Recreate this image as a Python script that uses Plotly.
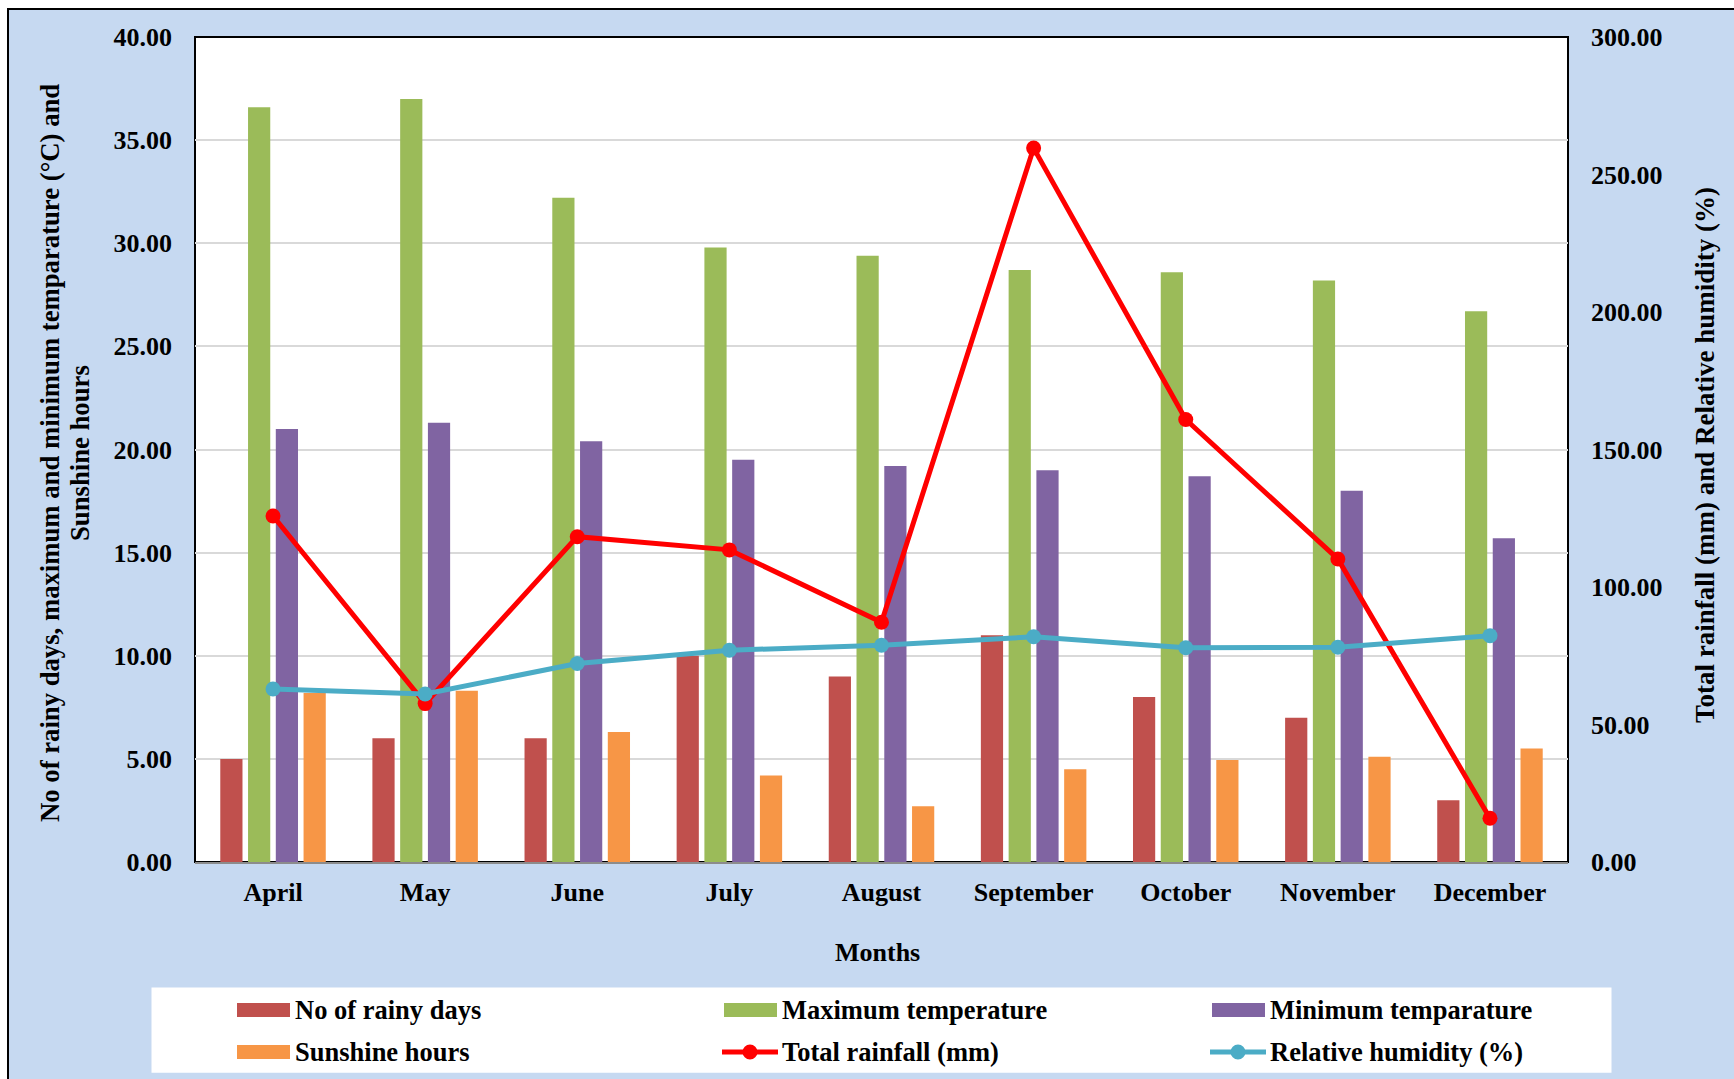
import plotly.graph_objects as go

# ---- data -------------------------------------------------------------
months = ["April", "May", "June", "July", "August", "September",
          "October", "November", "December"]
rainy_days = [5, 6, 6, 10, 9, 11, 8, 7, 3]
max_temp = [36.6, 37.0, 32.2, 29.8, 29.4, 28.7, 28.6, 28.2, 26.7]
min_temp = [21.0, 21.3, 20.4, 19.5, 19.2, 19.0, 18.7, 18.0, 15.7]
sunshine = [8.2, 8.3, 6.3, 4.2, 2.7, 4.5, 4.95, 5.1, 5.5]
rainfall = [125.8, 57.6, 118.3, 113.5, 87.2, 259.6, 160.9, 110.2, 15.9]
humidity = [62.9, 61.1, 72.2, 77.0, 78.8, 81.9, 77.9, 78.1, 82.3]

left_ticks = [0, 5, 10, 15, 20, 25, 30, 35, 40]
right_ticks = [0, 50, 100, 150, 200, 250, 300]

# ---- styling ----------------------------------------------------------
C_RAINY = "#C0504D"
C_MAX = "#9BBB59"
C_MIN = "#8064A2"
C_SUN = "#F79646"
C_RAIN = "#FF0000"
C_HUM = "#4BACC6"
BG_BLUE = "#C6D9F1"
FONT = "Liberation Serif, Times New Roman, serif"

W, H = 1734, 1079
ML, MR, MT, MB = 195, 166, 37, 217
PW, PH = W - ML - MR, H - MT - MB


def px(x):
    """page x (pixels) -> paper fraction"""
    return (x - ML) / PW


def py(y):
    """page y (pixels from top) -> paper fraction"""
    return (H - MB - y) / PH


def bold(size=26):
    return dict(family=FONT, size=size, color="black", weight="bold")


fig = go.Figure()

bar_series = [
    ("No of rainy days", rainy_days, C_RAINY),
    ("Maximum temperature", max_temp, C_MAX),
    ("Minimum temparature", min_temp, C_MIN),
    ("Sunshine hours", sunshine, C_SUN),
]
for name, vals, col in bar_series:
    fig.add_trace(go.Bar(x=months, y=vals, name=name, marker_color=col,
                         marker_line_width=0, yaxis="y", showlegend=False))

fig.add_trace(go.Scatter(x=months, y=rainfall, name="Total rainfall (mm)",
                         mode="lines+markers", yaxis="y2", showlegend=False,
                         line=dict(color=C_RAIN, width=5),
                         marker=dict(color=C_RAIN, size=15)))
fig.add_trace(go.Scatter(x=months, y=humidity, name="Relative humidity (%)",
                         mode="lines+markers", yaxis="y2", showlegend=False,
                         line=dict(color=C_HUM, width=5),
                         marker=dict(color=C_HUM, size=15)))

shapes = [
    # page frame
    dict(type="rect", xref="paper", yref="paper", layer="below",
         x0=px(8), x1=px(W + 10), y0=py(H + 10), y1=py(9),
         fillcolor=BG_BLUE, line=dict(color="black", width=2)),
    # plot area
    dict(type="rect", xref="paper", yref="paper", layer="below",
         x0=0, x1=1, y0=0, y1=1,
         fillcolor="white", line=dict(color="black", width=2)),
    # legend box
    dict(type="rect", xref="paper", yref="paper", layer="below",
         x0=px(151.5), x1=px(1611.5), y0=py(1072.7), y1=py(987.5),
         fillcolor="white", line=dict(width=0)),
]

annotations = []

# legend entries laid out in a 3 x 2 grid
col_x = [237, 724, 1212]
row_y = [1010, 1052]
legend_items = [
    ("No of rainy days", "bar", C_RAINY),
    ("Maximum temperature", "bar", C_MAX),
    ("Minimum temparature", "bar", C_MIN),
    ("Sunshine hours", "bar", C_SUN),
    ("Total rainfall (mm)", "line", C_RAIN),
    ("Relative humidity (%)", "line", C_HUM),
]
for i, (label, kind, col) in enumerate(legend_items):
    x0 = col_x[i % 3]
    yc = row_y[i // 3]
    if kind == "bar":
        shapes.append(dict(type="rect", xref="paper", yref="paper",
                           x0=px(x0), x1=px(x0 + 53),
                           y0=py(yc + 7), y1=py(yc - 7),
                           fillcolor=col, line=dict(width=0)))
    else:
        shapes.append(dict(type="line", xref="paper", yref="paper",
                           x0=px(x0 - 2), x1=px(x0 + 54), y0=py(yc), y1=py(yc),
                           line=dict(color=col, width=5)))
        shapes.append(dict(type="circle", xref="paper", yref="paper",
                           x0=px(x0 + 18.5), x1=px(x0 + 33.5),
                           y0=py(yc + 7.5), y1=py(yc - 7.5),
                           fillcolor=col, line=dict(color=col, width=0)))
    annotations.append(dict(text=label, xref="paper", yref="paper",
                            x=px(x0 + 56), y=py(yc), xanchor="left",
                            yanchor="middle", showarrow=False, font=bold(26.5)))

# axis titles
annotations += [
    dict(text="No of rainy days, maximum and minimum temparature (°C) and",
         xref="paper", yref="paper", x=px(50), y=py(453), textangle=-90,
         xanchor="center", yanchor="middle", showarrow=False, font=bold(26.7)),
    dict(text="Sunshine hours",
         xref="paper", yref="paper", x=px(80), y=py(453), textangle=-90,
         xanchor="center", yanchor="middle", showarrow=False, font=bold(26.7)),
    dict(text="Total rainfall (mm) and Relative humidity (%)",
         xref="paper", yref="paper", x=px(1705), y=py(455), textangle=-90,
         xanchor="center", yanchor="middle", showarrow=False, font=bold(27)),
    dict(text="Months",
         xref="paper", yref="paper", x=px(877), y=py(952),
         xanchor="center", yanchor="middle", showarrow=False, font=bold(26)),
]

fig.update_layout(
    width=W, height=H,
    margin=dict(l=ML, r=MR, t=MT, b=MB, autoexpand=False),
    paper_bgcolor="white",
    plot_bgcolor="rgba(0,0,0,0)",
    barmode="group", bargap=0.27, bargroupgap=0.2,
    showlegend=False,
    font=bold(26),
    shapes=shapes,
    annotations=annotations,
    xaxis=dict(
        type="category", showgrid=False, zeroline=False,
        showline=True, linecolor="#8C8C8C", linewidth=2,
        ticks="", tickfont=bold(26), ticklabelstandoff=6,
    ),
    yaxis=dict(
        range=[0, 40], tickvals=left_ticks, tickformat=".2f",
        showgrid=True, gridcolor="#D9D9D9", gridwidth=2,
        zeroline=False, showline=False, ticks="",
        tickfont=bold(26), ticklabelstandoff=22,
    ),
    yaxis2=dict(
        range=[0, 300], tickvals=right_ticks, tickformat=".2f",
        overlaying="y", side="right", showgrid=False, zeroline=False,
        showline=False, ticks="", tickfont=bold(26), ticklabelstandoff=22,
    ),
)

fig.write_html("out.html")
